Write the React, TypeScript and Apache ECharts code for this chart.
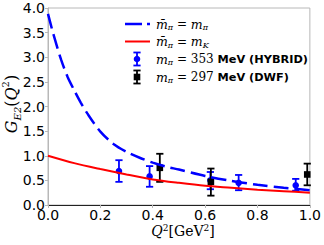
import React, { useEffect, useRef } from 'react';
import * as echarts from 'echarts';

const curvePiX = [0, 0.02, 0.05, 0.075, 0.1, 0.125, 0.15, 0.2, 0.25, 0.3, 0.35, 0.4, 0.45, 0.5, 0.6, 0.7, 0.8, 0.9, 1.0];
const curvePiY = [3.88, 3.48, 2.95, 2.6, 2.33, 2.08, 1.86, 1.49, 1.24, 1.08, 0.96, 0.86, 0.78, 0.72, 0.59, 0.49, 0.41, 0.35, 0.3];
const curveKX = [0, 0.1, 0.2, 0.3, 0.4, 0.5, 0.6, 0.7, 0.8, 0.9, 1.0];
const curveKY = [1.0, 0.85, 0.73, 0.62, 0.52, 0.45, 0.39, 0.35, 0.31, 0.28, 0.25];

const hybridQ2 = [0.271, 0.388, 0.62, 0.728, 0.946];
const hybridG = [0.69, 0.58, 0.5, 0.45, 0.4];
const hybridLo = [0.47, 0.37, 0.32, 0.3, 0.29];
const hybridHi = [0.91, 0.79, 0.67, 0.61, 0.53];

const dwfQ2 = [0.427, 0.622, 0.99];
const dwfG = [0.755, 0.47, 0.62];
const dwfLo = [0.47, 0.19, 0.4];
const dwfHi = [1.04, 0.74, 0.84];

const BLUE = '#0000ff';
const RED = '#ff0000';
const GREY = '#b8b8b8';

const errRender = (color: string, marker: 'circle' | 'square') => (params: any, api: any) => {
  const x = api.value(0);
  const p = api.coord([x, api.value(1)]);
  const pl = api.coord([x, api.value(2)]);
  const ph = api.coord([x, api.value(3)]);
  const cap = 3.6;
  const ls = { stroke: color, lineWidth: 1.8 };
  const children: any[] = [
    { type: 'line', shape: { x1: p[0], y1: pl[1], x2: p[0], y2: ph[1] }, style: ls },
    { type: 'line', shape: { x1: p[0] - cap, y1: pl[1], x2: p[0] + cap, y2: pl[1] }, style: ls },
    { type: 'line', shape: { x1: p[0] - cap, y1: ph[1], x2: p[0] + cap, y2: ph[1] }, style: ls },
    marker === 'circle'
      ? { type: 'circle', shape: { cx: p[0], cy: p[1], r: 3.3 }, style: { fill: color } }
      : { type: 'rect', shape: { x: p[0] - 3.3, y: p[1] - 3.3, width: 6.6, height: 6.6 }, style: { fill: color } },
  ];
  return { type: 'group', children };
};

const mathRich = {
  i: { fontFamily: 'DejaVu Serif', fontStyle: 'italic', fontSize: 12.5, color: '#000', verticalAlign: 'middle' },
  s: { fontFamily: 'DejaVu Serif', fontStyle: 'italic', fontSize: 8, color: '#000', verticalAlign: 'bottom', lineHeight: 15 },
  n: { fontFamily: 'DejaVu Serif', fontSize: 12, color: '#000' },
  b: { fontFamily: 'DejaVu Sans', fontWeight: 'bold', fontSize: 11.3, color: '#000' },
};

export default function App() {
  const ref = useRef<HTMLDivElement>(null);
  useEffect(() => {
    const chart = echarts.init(ref.current!, null, { renderer: 'svg' });
    const legendX = 156;
    const rowsY = [24, 41.5, 59, 77];
    chart.setOption({
      animation: false,
      backgroundColor: '#fff',
      grid: { left: 48, right: 14, top: 8, bottom: 40, show: true, borderColor: GREY, borderWidth: 1 },
      xAxis: {
        type: 'value', min: 0, max: 1, interval: 0.2,
        axisLine: { show: true, lineStyle: { color: '#222', width: 1 } },
        axisTick: { show: true, length: 3, lineStyle: { color: GREY } },
        splitLine: { show: false },
        axisLabel: { fontFamily: 'DejaVu Sans', fontSize: 14, color: '#000', margin: 3, formatter: (v: number) => v.toFixed(1) },
      },
      yAxis: {
        type: 'value', min: 0, max: 4, interval: 0.5,
        axisLine: { show: true, lineStyle: { color: GREY, width: 1 } },
        axisTick: { show: true, length: 3, lineStyle: { color: GREY } },
        splitLine: { show: false },
        axisLabel: { fontFamily: 'DejaVu Sans', fontSize: 14, color: '#000', margin: 3, formatter: (v: number) => v.toFixed(1) },
      },
      series: [
        {
          type: 'line', data: curvePiX.map((x, i) => [x, curvePiY[i]]), smooth: 0.3, showSymbol: false,
          lineStyle: { color: BLUE, width: 2.5, type: [15, 6] },
        },
        {
          type: 'line', data: curveKX.map((x, i) => [x, curveKY[i]]), smooth: 0.3, showSymbol: false,
          lineStyle: { color: RED, width: 2 },
        },
        {
          type: 'custom', renderItem: errRender(BLUE, 'circle'),
          data: hybridQ2.map((q, i) => [q, hybridG[i], hybridLo[i], hybridHi[i]]),
          encode: { x: 0, y: [1, 2, 3] },
        },
        {
          type: 'custom', renderItem: errRender('#000', 'square'),
          data: dwfQ2.map((q, i) => [q, dwfG[i], dwfLo[i], dwfHi[i]]),
          encode: { x: 0, y: [1, 2, 3] },
        },
      ],
      graphic: [
        { type: 'line', shape: { x1: 125, y1: rowsY[0], x2: 150, y2: rowsY[0] }, style: { stroke: BLUE, lineWidth: 2.5, lineDash: [17, 5] } },
        { type: 'line', shape: { x1: 125, y1: rowsY[1], x2: 150, y2: rowsY[1] }, style: { stroke: RED, lineWidth: 2 } },
        { type: 'line', shape: { x1: 137, y1: rowsY[2] - 6.5, x2: 137, y2: rowsY[2] + 6.5 }, style: { stroke: BLUE, lineWidth: 1.8 } },
        { type: 'line', shape: { x1: 133.4, y1: rowsY[2] - 6.5, x2: 140.6, y2: rowsY[2] - 6.5 }, style: { stroke: BLUE, lineWidth: 1.8 } },
        { type: 'line', shape: { x1: 133.4, y1: rowsY[2] + 6.5, x2: 140.6, y2: rowsY[2] + 6.5 }, style: { stroke: BLUE, lineWidth: 1.8 } },
        { type: 'circle', shape: { cx: 137, cy: rowsY[2], r: 3.3 }, style: { fill: BLUE } },
        { type: 'line', shape: { x1: 137, y1: rowsY[3] - 6.5, x2: 137, y2: rowsY[3] + 6.5 }, style: { stroke: '#000', lineWidth: 1.8 } },
        { type: 'line', shape: { x1: 133.4, y1: rowsY[3] - 6.5, x2: 140.6, y2: rowsY[3] - 6.5 }, style: { stroke: '#000', lineWidth: 1.8 } },
        { type: 'line', shape: { x1: 133.4, y1: rowsY[3] + 6.5, x2: 140.6, y2: rowsY[3] + 6.5 }, style: { stroke: '#000', lineWidth: 1.8 } },
        { type: 'rect', shape: { x: 133.7, y: rowsY[3] - 3.3, width: 6.6, height: 6.6 }, style: { fill: '#000' } },
        {
          type: 'text', x: legendX, y: rowsY[0],
          style: { text: '{i|m\u0304}{s|\u03c0}{n| = }{i|m}{s|\u03c0}', rich: mathRich, verticalAlign: 'middle' },
        },
        {
          type: 'text', x: legendX, y: rowsY[1],
          style: { text: '{i|m\u0304}{s|\u03c0}{n| = }{i|m}{s|K}', rich: mathRich, verticalAlign: 'middle' },
        },
        {
          type: 'text', x: legendX, y: rowsY[2],
          style: { text: '{i|m}{s|\u03c0}{n| = 353 }{b|MeV (HYBRID)}', rich: mathRich, verticalAlign: 'middle' },
        },
        {
          type: 'text', x: legendX, y: rowsY[3],
          style: { text: '{i|m}{s|\u03c0}{n| = 297 }{b|MeV (DWF)}', rich: mathRich, verticalAlign: 'middle' },
        },
        {
          type: 'text', x: 11, y: 104, rotation: Math.PI / 2,
          style: {
            text: '{i|G}{s|E2}{n|(}{i|Q}{p|2}{n|)}', align: 'center', verticalAlign: 'middle',
            rich: {
              i: { fontFamily: 'DejaVu Serif', fontStyle: 'italic', fontSize: 16, color: '#000' },
              s: { fontFamily: 'DejaVu Serif', fontStyle: 'italic', fontSize: 10, color: '#000', verticalAlign: 'bottom', lineHeight: 22 },
              p: { fontFamily: 'DejaVu Serif', fontSize: 10, color: '#000', verticalAlign: 'top', lineHeight: 22 },
              n: { fontFamily: 'DejaVu Serif', fontSize: 16, color: '#000' },
            },
          },
        },
        {
          type: 'text', x: 183, y: 231,
          style: {
            text: '{i|Q}{p|2}{n|[GeV}{p|2}{n|]}', align: 'center', verticalAlign: 'middle',
            rich: {
              i: { fontFamily: 'DejaVu Serif', fontStyle: 'italic', fontSize: 14, color: '#000', lineHeight: 15 },
              p: { fontFamily: 'DejaVu Serif', fontSize: 9, color: '#000', verticalAlign: 'top', lineHeight: 15 },
              n: { fontFamily: 'DejaVu Serif', fontSize: 14, color: '#000', lineHeight: 15 },
            },
          },
        },
      ],
    });
    return () => chart.dispose();
  }, []);
  return <div ref={ref} style={{ position: 'absolute', left: 0, top: 0, width: 324, height: 245 }} />;
}
